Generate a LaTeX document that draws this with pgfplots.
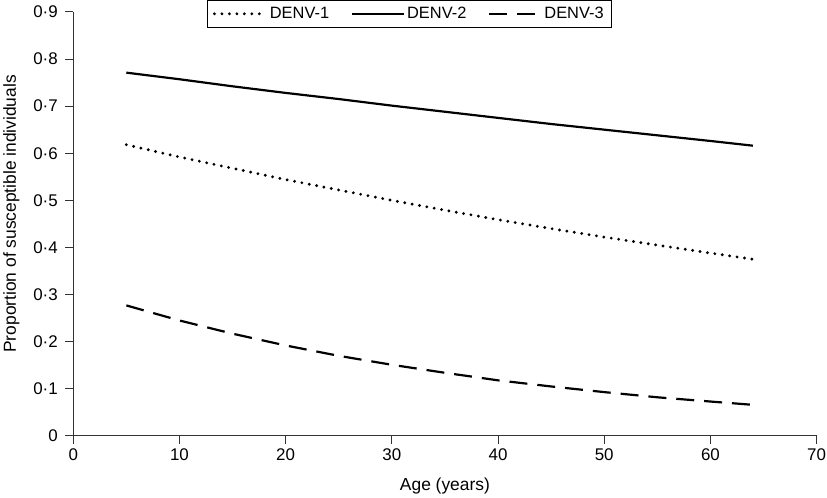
\documentclass[border=0pt]{standalone}
\usepackage{pgfplots}
\pgfplotsset{compat=1.18}
\usepackage{fontspec}
\setmainfont{Liberation Sans}
\begin{document}
\begin{tikzpicture}
\begin{axis}[
  scale only axis,
  width=745bp, height=425bp,
  xmin=0, xmax=70, ymin=0, ymax=0.9,
  axis lines*=left,
  axis line style={line width=0.9pt, black!80},
  tick align=outside,
  major tick length=8bp,
  tick style={line width=0.9pt, black!80},
  xtick={0,10,...,70},
  ytick={0,0.1,...,0.9},
  yticklabels={0,0·1,0·2,0·3,0·4,0·5,0·6,0·7,0·8,0·9},
  /pgf/number format/assume math mode=true,
  ticklabel style={font=\fontsize{17}{19}\selectfont},
  xticklabel style={yshift=-1bp, inner xsep=1bp},
  yticklabel style={xshift=-4bp},
  label style={font=\fontsize{17.5}{19}\selectfont},
  xlabel={Age (years)},
  ylabel={Proportion of susceptible individuals},
  xlabel style={yshift=-11bp},
  ylabel style={yshift=7bp, xshift=10bp},
  legend columns=3,
  legend style={at={(0.452,1.028)}, anchor=north, draw=black, line width=0.7pt,
    font=\fontsize{16.5}{18}\selectfont, inner xsep=6bp, inner ysep=5bp,
    /tikz/every even column/.append style={column sep=20bp}},
  legend image code/.code={\draw[#1] (0bp,0bp) -- (52bp,0bp);},
]
\addplot[black, line width=3.2pt, line cap=round, dash pattern=on 0pt off 7.5bp] coordinates {
(5,0.618) (10,0.592) (15,0.568) (20,0.544) (25,0.522) (30,0.500) (35,0.479)
(40,0.459) (45,0.440) (50,0.422) (55,0.405) (60,0.388) (64,0.375)};
\addlegendentry{DENV-1}
\addplot[black, line width=2.2pt] coordinates {
(5,0.771) (10,0.757) (15,0.742) (20,0.728) (25,0.715) (30,0.701) (35,0.688)
(40,0.675) (45,0.662) (50,0.650) (55,0.638) (60,0.626) (64,0.616)};
\addlegendentry{DENV-2}
\addplot[black, line width=2.2pt, dash pattern=on 18bp off 10bp] coordinates {
(5,0.277) (10,0.245) (15,0.217) (20,0.192) (25,0.170) (30,0.151) (35,0.134)
(40,0.118) (45,0.105) (50,0.093) (55,0.082) (60,0.073) (64,0.066)};
\addlegendentry{DENV-3}
\end{axis}
\end{tikzpicture}
\end{document}
